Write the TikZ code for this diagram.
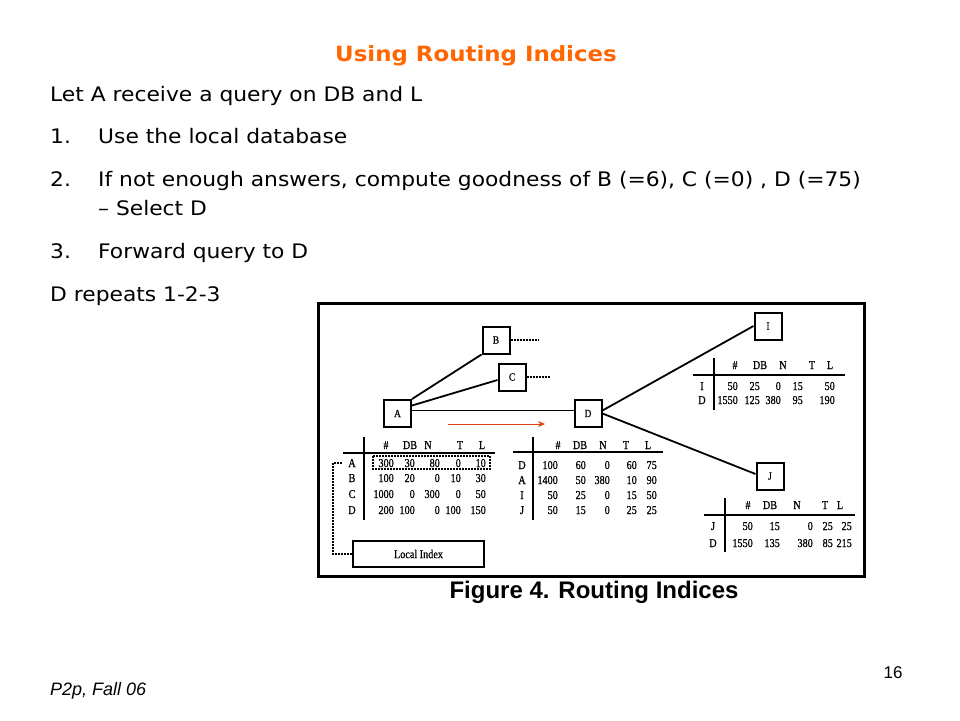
\documentclass[tikz,border=0pt]{standalone}
\usepackage{fontspec}
\setmainfont{DejaVu Sans}[FakeStretch=1.09]
\newfontfamily\figfont{Liberation Serif}[FakeStretch=0.85, FakeBold=0.6]
\newfontfamily\capfont{Liberation Sans}
\usetikzlibrary{arrows.meta}
\definecolor{titleorange}{RGB}{255,102,0}
\definecolor{queryred}{RGB}{225,65,25}
\tikzset{
	slide/.style = {font=\fontsize{20}{24}\selectfont, anchor=base west, inner sep=0pt},
	peer/.style = {draw, line width=2pt, minimum width=27pt, minimum height=27pt, inner sep=0pt, font=\figfont\fontsize{11}{11}\selectfont},
	cell/.style = {font=\figfont\fontsize{12}{12}\selectfont, inner sep=0pt, anchor=base east},
	head/.style = {cell, anchor=base},
	hrule/.style = {line width=1.5pt},
	vrule/.style = {line width=2pt},
	link/.style = {line width=1.8pt},
	stub/.style = {line width=2pt, densely dotted}
}

\begin{document}
\begin{tikzpicture}[x=1pt, y=-1pt]
	\fill[white] (0,0) rectangle (960,720);
	% slide text
	\node[anchor=base, inner sep=0pt, text=titleorange, font=\bfseries\fontsize{21}{24}\selectfont] (title) at (476,61) {Using Routing Indices};
	\node[slide] (intro) at (50,101) {Let A receive a query on DB and L};
	\node[slide] (n1) at (50,143) {1.};
	\node[slide] (s1) at (98,143) {Use the local database};
	\node[slide] (n2) at (50,186) {2.};
	\node[slide] (s2) at (98,186) {If not enough answers, compute goodness of B (=6), C (=0) , D (=75)};
	\node[slide] (s2b) at (98,215) {– Select D};
	\node[slide] (n3) at (50,258) {3.};
	\node[slide] (s3) at (98,258) {Forward query to D};
	\node[slide] (rep) at (50,301) {D repeats 1-2-3};
	\node[anchor=base west, inner sep=0pt, font=\capfont\itshape\fontsize{18}{18}\selectfont] (foot) at (50,695) {P2p, Fall 06};
	\node[anchor=base, inner sep=0pt, font=\capfont\fontsize{17}{17}\selectfont] (page) at (893,678) {16};
	% figure
	\draw[line width=3pt] (318,303) rectangle (864,576);
	\node[anchor=base, inner sep=0pt, font=\capfont\bfseries\fontsize{24}{24}\selectfont] (cap) at (594,598) {Figure 4. Routing Indices};
	\node[peer] (A) at (397.5,413.5) {A};
	\node[peer] (B) at (496,340) {B};
	\node[peer] (C) at (512,377) {C};
	\node[peer] (D) at (588,413.5) {D};
	\node[peer] (I) at (768,326) {I};
	\node[peer] (J) at (770,476) {J};
	\draw[link] (A.north east) -- (B.south west);
	\draw[link] ([yshift=8pt]A.east) -- ([yshift=-3pt]C.west);
	\draw[line width=1pt] ([yshift=3pt]A.east) -- ([yshift=3pt]D.west);
	\draw[link] ([yshift=3pt]D.east) -- (I.west);
	\draw[link] (D.east) -- ([yshift=2pt]J.west);
	\coordinate (bEnd) at (538,340);
	\coordinate (cEnd) at (550,377);
	\draw[stub] (B.east) -- (bEnd);
	\draw[stub] (C.east) -- (cEnd);
	\coordinate (q0) at (448,424);
	\coordinate (q1) at (545,424);
	\draw[-{Stealth[length=7pt,width=6pt]}, queryred, line width=0.8pt] (q0) -- (q1);
	% index of A
	\draw[vrule] (364,437) -- (364,520);
	\draw[hrule] (343,453) -- (495,453);
	\foreach \h/\x in {\#/386,DB/410,N/428,T/460,L/482}
		\node[head] (aH\x) at (\x,449) {\h};
	\foreach \lab/\y/\va/\vb/\vc/\vd/\ve in {A/467/300/30/80/0/10, B/482/100/20/0/10/30, C/498/1000/0/300/0/50, D/514/200/100/0/100/150} {
		\node[head] (a\lab) at (352,\y) {\lab};
		\foreach \v/\x [count=\c] in {\va/394,\vb/415,\vc/440,\vd/461,\ve/486}
			\node[cell] (a\lab\c) at (\x,\y) {\v};
	}
	\draw[stub, line width=1.5pt] (373,456) rectangle (490,469);
	\node[draw, line width=2pt, minimum width=131pt, minimum height=26pt, inner sep=0pt, font=\figfont\fontsize{12}{12}\selectfont] (local) at (418.5,554) {Local Index};
	\coordinate (aDot) at (342,463);
	\draw[stub, line width=1.8pt] (aDot) -- (333,463) |- (local.west);
	% index of D
	\draw[vrule] (533,437) -- (533,520);
	\draw[hrule] (513,452) -- (663,452);
	\foreach \h/\x in {\#/558,DB/580,N/603,T/626,L/648}
		\node[head] (dH\x) at (\x,449) {\h};
	\foreach \lab/\y/\va/\vb/\vc/\vd/\ve in {D/469/100/60/0/60/75, A/484/1400/50/380/10/90, I/499/50/25/0/15/50, J/514/50/15/0/25/25} {
		\node[head] (d\lab) at (522,\y) {\lab};
		\foreach \v/\x [count=\c] in {\va/558,\vb/586,\vc/610,\vd/637,\ve/657}
			\node[cell] (d\lab\c) at (\x,\y) {\v};
	}
	% index of I
	\draw[vrule] (714,358) -- (714,410);
	\draw[hrule] (693,375) -- (845,375);
	\foreach \h/\x in {\#/735,DB/760,N/783,T/812,L/830}
		\node[head] (iH\x) at (\x,369) {\h};
	\foreach \lab/\y/\va/\vb/\vc/\vd/\ve in {I/390/50/25/0/15/50, D/404/1550/125/380/95/190} {
		\node[head] (i\lab) at (702,\y) {\lab};
		\foreach \v/\x [count=\c] in {\va/738,\vb/760,\vc/781,\vd/803,\ve/835}
			\node[cell] (i\lab\c) at (\x,\y) {\v};
	}
	% index of J
	\draw[vrule] (725,498) -- (725,552);
	\draw[hrule] (704,515) -- (855,515);
	\foreach \h/\x in {\#/748,DB/770,N/797,T/825,L/840}
		\node[head] (jH\x) at (\x,509) {\h};
	\foreach \lab/\y/\va/\vb/\vc/\vd/\ve in {J/530/50/15/0/25/25, D/547/1550/135/380/85/215} {
		\node[head] (j\lab) at (713,\y) {\lab};
		\foreach \v/\x [count=\c] in {\va/753,\vb/780,\vc/813,\vd/833,\ve/852}
			\node[cell] (j\lab\c) at (\x,\y) {\v};
	}
\end{tikzpicture}
\end{document}
